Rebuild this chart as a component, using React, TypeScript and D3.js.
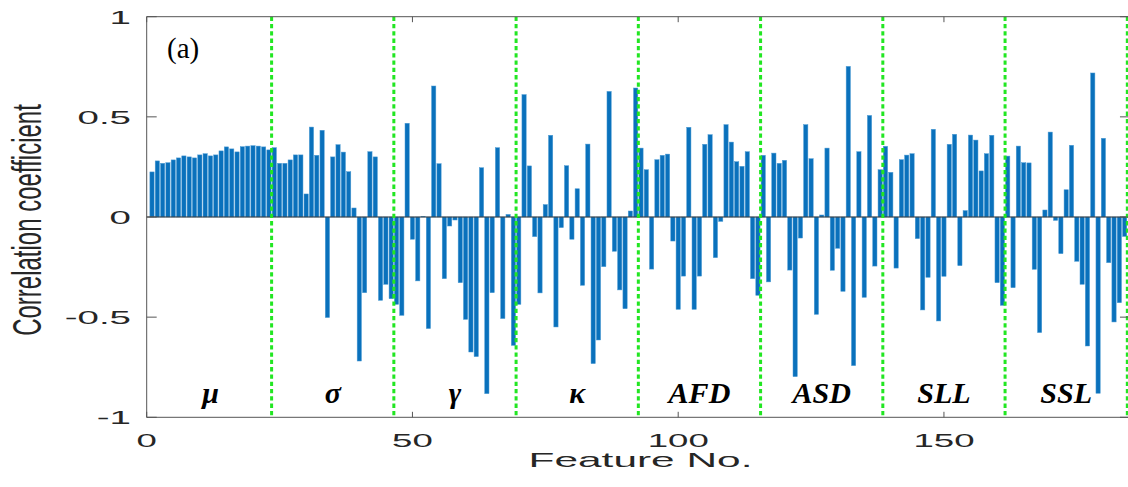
import React from "react";
import * as d3 from "d3";

// Correlation coefficient of each feature, grouped by feature family (23 features each)
const muValues = [0.225, 0.28, 0.268, 0.271, 0.285, 0.295, 0.305, 0.3, 0.295, 0.31, 0.316, 0.305, 0.31, 0.33, 0.35, 0.34, 0.325, 0.351, 0.354, 0.356, 0.354, 0.35, 0.335];
const sigmaValues = [0.346, 0.268, 0.268, 0.285, 0.31, 0.31, 0.115, 0.449, 0.308, 0.433, -0.502, 0.3, 0.361, 0.324, 0.226, 0.045, -0.719, -0.378, 0.326, 0.3, -0.416, -0.336, -0.408];
const gammaValues = [-0.436, -0.491, 0.468, -0.111, -0.319, 0.003, -0.557, 0.654, 0.266, -0.308, -0.045, -0.015, -0.328, -0.511, -0.674, -0.697, 0.246, -0.882, -0.378, 0.346, -0.507, 0.013, -0.641];
const kappaValues = [-0.436, 0.611, 0.255, -0.098, -0.379, 0.062, 0.408, -0.549, -0.053, 0.256, -0.111, 0.141, -0.341, 0.364, -0.732, -0.614, -0.248, 0.627, -0.171, -0.364, -0.458, 0.03, 0.644];
const afdValues = [0.344, 0.236, -0.26, 0.286, 0.308, 0.314, -0.12, -0.461, -0.295, 0.448, -0.461, -0.295, 0.363, 0.411, -0.203, -0.022, 0.461, 0.374, 0.276, 0.253, 0.326, -0.308, -0.391];
const asdValues = [0.308, -0.324, 0.319, 0.268, 0.283, -0.265, -0.797, -0.105, 0.461, 0.291, -0.486, 0.01, 0.344, -0.266, -0.156, -0.371, 0.752, -0.742, 0.326, -0.401, 0.507, -0.245, 0.236];
const sllValues = [0.353, 0.223, -0.255, 0.286, 0.309, 0.316, -0.108, -0.464, -0.301, 0.438, -0.519, -0.296, 0.363, 0.413, -0.243, 0.032, 0.409, 0.384, 0.23, 0.316, 0.408, -0.328, -0.441];
const sslValues = [0.304, -0.353, 0.354, 0.271, 0.27, -0.261, -0.577, 0.035, 0.424, -0.017, -0.183, 0.136, 0.358, -0.221, -0.336, -0.644, 0.719, -0.88, 0.393, -0.228, -0.524, -0.428, -0.097];

const groupNames = ["\u03bc", "\u03c3", "\u03b3", "\u03ba", "AFD", "ASD", "SLL", "SSL"];
const groupSeries = [muValues, sigmaValues, gammaValues, kappaValues, afdValues, asdValues, sllValues, sslValues];

const xTicks = [0, 50, 100, 150];
const yTicks = [-1, -0.5, 0, 0.5, 1];
const yTickLabels = ["-1", "-0.5", "0", "0.5", "1"];

const W = 1128;
const H = 487;
const left = 146.7;
const top = 16.7;
const bottom = 417.3;
const unit = 5.315;
const xMax = 185;
const stretch = 2.07;

const blue = "#0a71bc";
const axisColor = "#555";
const textColor = "#262626";
const green = "#22e622";

export default function App() {
  const features = groupSeries.flat().map((v, i) => ({ id: i + 1, value: v }));
  const groupSize = muValues.length;

  const x = d3.scaleLinear().domain([0, xMax]).range([left, left + xMax * unit]);
  const y = d3.scaleLinear().domain([-1, 1]).range([bottom, top]);
  const barW = x(0.8) - x(0);
  const right = x(xMax);

  const separators = d3.range(1, groupSeries.length + 1).map((k) => k * groupSize + 0.5);

  return (
    <svg width={W} height={H} style={{ position: "absolute", left: 0, top: 0, background: "#fff" }}>
      {/* bars */}
      {features.map((d) => (
        <rect
          key={d.id}
          x={x(d.id) - barW / 2}
          y={y(Math.max(0, d.value))}
          width={barW}
          height={Math.abs(y(d.value) - y(0))}
          fill={blue}
          stroke="#4d9bd4"
          strokeWidth={0.5}
        />
      ))}
      {/* baseline */}
      <line x1={left} x2={right} y1={y(0)} y2={y(0)} stroke="#333" strokeWidth={1} />
      {/* group separators */}
      {separators.map((s) => (
        <line
          key={s}
          x1={x(s)}
          x2={x(s)}
          y1={top}
          y2={bottom}
          stroke={green}
          strokeWidth={3}
          strokeDasharray="4.3,3"
        />
      ))}
      {/* axes box */}
      <line x1={left} x2={right} y1={top} y2={top} stroke={axisColor} strokeWidth={1} />
      <line x1={left} x2={right} y1={bottom} y2={bottom} stroke={axisColor} strokeWidth={1} />
      <line x1={left} x2={left} y1={top} y2={bottom} stroke={axisColor} strokeWidth={1} />
      <line x1={right} x2={right} y1={top} y2={bottom} stroke={axisColor} strokeWidth={1} />
      {/* y ticks */}
      {yTicks.map((t, i) => (
        <g key={"y" + t}>
          <line x1={left} x2={left + 10} y1={y(t)} y2={y(t)} stroke={axisColor} />
          <line x1={right - 10} x2={right} y1={y(t)} y2={y(t)} stroke={axisColor} />
          <text
            transform={`translate(${131},${y(t) + 6.8}) scale(${stretch},1)`}
            textAnchor="end"
            fontFamily="Liberation Sans, Arial, sans-serif"
            fontSize={18.6}
            fill={textColor}
          >
            {yTickLabels[i]}
          </text>
        </g>
      ))}
      {/* x ticks */}
      {xTicks.map((t) => (
        <g key={"x" + t}>
          <line x1={x(t)} x2={x(t)} y1={bottom} y2={bottom - 5.5} stroke={axisColor} />
          <line x1={x(t)} x2={x(t)} y1={top} y2={top + 5.5} stroke={axisColor} />
          <text
            transform={`translate(${x(t)},${446.7}) scale(${stretch},1)`}
            textAnchor="middle"
            fontFamily="Liberation Sans, Arial, sans-serif"
            fontSize={17.7}
            fill={textColor}
          >
            {t}
          </text>
        </g>
      ))}
      {/* group labels */}
      {groupNames.map((name, k) => (
        <text
          key={name}
          x={x(k * groupSize + (groupSize + 1) / 2)}
          y={403}
          textAnchor="middle"
          fontFamily="Liberation Serif, Times New Roman, serif"
          fontStyle="italic"
          fontWeight="bold"
          fontSize={30}
          fill="#000"
        >
          {name}
        </text>
      ))}
      {/* panel tag */}
      <text x={167} y={58} fontFamily="Liberation Serif, Times New Roman, serif" fontSize={29} fill="#000">
        (a)
      </text>
      {/* axis titles */}
      <text
        transform={`translate(${640.5},${467.3}) scale(${stretch},1)`}
        textAnchor="middle"
        fontFamily="Liberation Sans, Arial, sans-serif"
        fontSize={20.5}
        fill={textColor}
      >
        Feature No.
      </text>
      <text
        transform={`translate(${41},${220}) scale(1.71,1) rotate(-90)`}
        textAnchor="middle"
        fontFamily="Liberation Sans, Arial, sans-serif"
        fontSize={24}
        fill={textColor}
      >
        Correlation coefficient
      </text>
    </svg>
  );
}
